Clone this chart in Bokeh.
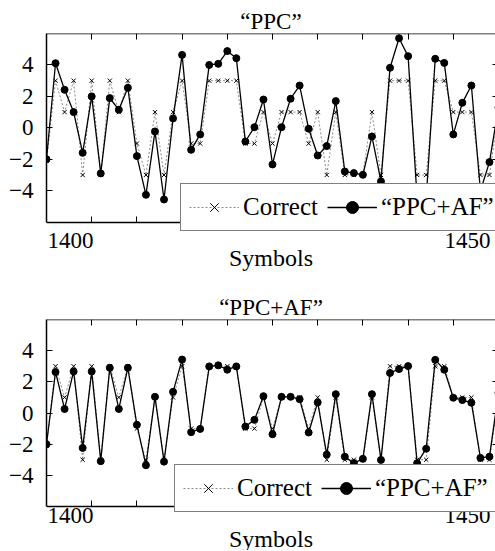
from bokeh.plotting import figure
from bokeh.models import (Range1d, LinearAxis, FixedTicker, Legend, LegendItem,
                          Label, Title, ColumnDataSource)
from bokeh.layouts import column
from bokeh.embed import file_html
from bokeh.resources import INLINE

# ---------------- data ----------------
symbols = list(range(1400, 1451))
correct = [-2.1, 3, 1, 3, -3, 3, -3, 3, 1, 3,
           -1, -3, 1, -3, 1, 3, -1, -1, 3, 3,
           3, 3, -1, -1, 1, -1, 1, 1, 1, -1,
           1, -3, 1, -3, -3, -3, 1, -3, 3, 3,
           3, -3, -3, 3, 3, 1, 1, 1, -3, -3, 1]
ppc = [-2.0, 4.11, 2.42, 1.0, -1.59, 2.0, -2.9, 1.89, 1.15, 2.55,
       -1.8, -4.26, -0.23, -4.56, 0.6, 4.64, -1.4, -0.42, 4.0, 4.07,
       4.88, 4.43, -0.87, 0.04, 1.8, -2.33, 0.04, 1.85, 2.69, -0.06,
       -1.76, -1.16, 1.7, -2.78, -2.88, -2.99, -0.55, -3.41, 3.82, 5.7,
       4.56, -4.5, -4.5, 4.39, 4.13, -0.42, 1.59, 2.69, -4.0, -2.18, 1.3]
ppc_af = [-2.0, 2.63, 0.26, 2.67, -2.24, 2.67, -3.09, 2.9, 0.26, 2.9,
          -0.76, -3.35, 1.04, -3.12, 1.36, 3.43, -1.23, -1.02, 2.99, 3.06,
          2.78, 2.99, -0.87, -0.44, 1.08, -1.36, 1.04, 1.04, 0.89, -1.25,
          0.68, -2.67, 1.21, -2.8, -3.22, -2.94, 1.21, -3.01, 2.57, 2.82,
          3.01, -3.22, -2.29, 3.41, 2.78, 0.98, 0.83, 0.66, -2.88, -2.8, 1.3]

y_ticks = [-4, -2, 0, 2, 4]
x_ticks = [1405, 1410, 1415, 1420, 1425, 1430, 1435, 1440, 1445]
x_label_values = [1400, 1450]
x_label_texts = ["1400", "1450"]
titles = ["\u201cPPC\u201d", "\u201cPPC+AF\u201d"]
legend_labels = ["Correct", "\u201cPPC+AF\u201d"]
x_axis_label = "Symbols"

FONT = "Liberation Serif"
FS = "23px"
FS_BIG = "24px"
FS_LEG = "25px"
X_START, X_BORDER = 1400, 1450
Y_LOW, Y_HIGH = -6, 6          # the drawn plot box
PX_X, PX_Y = 9.04, 15.72       # pixels per data unit
LEFT, WIDTH = 46, 495


def make_panel(title, est, height, top, legend_loc, lab_dy, xlab_standoff):
    frame_w = WIDTH - LEFT
    frame_h = height - top
    x_end = X_START + frame_w / PX_X
    y_start = Y_HIGH - frame_h / PX_Y
    p = figure(width=WIDTH, height=height, output_backend="svg", toolbar_location=None,
               x_range=Range1d(X_START, x_end), y_range=Range1d(y_start, Y_HIGH),
               x_axis_type=None, y_axis_type=None,
               min_border_left=LEFT, min_border_right=0,
               min_border_top=top, min_border_bottom=0)
    p.outline_line_color = None
    p.background_fill_color = "white"
    p.border_fill_color = "white"

    p.title = Title(text=title, align="center", text_font=FONT, text_font_size=FS,
                    text_font_style="normal", text_color="black", standoff=0)

    # left axis with labels
    ya = LinearAxis(ticker=FixedTicker(ticks=y_ticks, minor_ticks=[]), bounds=(Y_LOW, Y_HIGH),
                    major_tick_in=6, major_tick_out=0, minor_tick_in=0, minor_tick_out=0,
                    axis_line_width=1.5, major_tick_line_width=1,
                    major_label_text_font=FONT, major_label_text_font_size=FS,
                    major_label_text_color="black", major_label_standoff=13)
    p.add_layout(ya, "left")

    # bottom border, ticks inside, axis title
    xa = LinearAxis(ticker=FixedTicker(ticks=[], minor_ticks=x_ticks), fixed_location=Y_LOW,
                    bounds=(X_START, X_BORDER),
                    minor_tick_in=6, minor_tick_out=0, major_tick_in=0, major_tick_out=0,
                    axis_line_width=1.5, minor_tick_line_width=1, minor_tick_line_color="black",
                    major_label_standoff=0,
                    axis_label=x_axis_label, axis_label_text_font=FONT,
                    axis_label_text_font_size=FS_BIG, axis_label_text_font_style="normal",
                    axis_label_text_color="black", axis_label_standoff=xlab_standoff)
    p.add_layout(xa, "below")

    # top border with ticks
    ta = LinearAxis(ticker=FixedTicker(ticks=[], minor_ticks=x_ticks), fixed_location=Y_HIGH,
                    bounds=(X_START, X_BORDER),
                    minor_tick_in=6, minor_tick_out=0, major_tick_in=0, major_tick_out=0,
                    axis_line_width=1.5, minor_tick_line_width=1, minor_tick_line_color="black")
    p.add_layout(ta, "above")

    # right ticks (the border itself lies just outside the window)
    ra = LinearAxis(ticker=FixedTicker(ticks=[], minor_ticks=y_ticks), fixed_location=X_BORDER,
                    bounds=(Y_LOW, Y_HIGH),
                    minor_tick_in=6, minor_tick_out=0, major_tick_in=0, major_tick_out=0,
                    axis_line_width=1.5, minor_tick_line_width=1, minor_tick_line_color="black")
    p.add_layout(ra, "right")

    # x tick labels (only the two ends are labelled)
    for v, t, al, dx in zip(x_label_values, x_label_texts, ["left", "right"], [1, -8]):
        p.add_layout(Label(x=v, y=Y_LOW, text=t, text_align=al, text_baseline="top",
                           x_offset=dx, y_offset=lab_dy, text_font=FONT, text_font_size=FS,
                           text_color="black"))

    src = ColumnDataSource(dict(x=symbols, correct=correct, est=est))
    lc = p.line("x", "correct", source=src, line_color="#8a8a8a", line_dash="2 2", line_width=1)
    mc = p.scatter("x", "correct", source=src, marker="x", size=6, line_color="black",
                   line_width=1)
    le = p.line("x", "est", source=src, line_color="black", line_width=1.3)
    me = p.scatter("x", "est", source=src, marker="circle", size=7, fill_color="black",
                   line_color="black")

    legend = Legend(items=[LegendItem(label=legend_labels[0], renderers=[lc, mc]),
                           LegendItem(label=legend_labels[1], renderers=[le, me])],
                    orientation="horizontal", location=legend_loc,
                    glyph_width=50, glyph_height=30, label_height=30, label_standoff=4,
                    spacing=9, padding=8, margin=0,
                    border_line_color="black", border_line_width=1.5,
                    background_fill_color="white", background_fill_alpha=1.0,
                    label_text_font=FONT, label_text_font_size=FS_LEG,
                    label_text_color="black")
    p.add_layout(legend)
    return p


p1 = make_panel(titles[0], ppc, 292, 33, (134, 61), -11, 22)
p2 = make_panel(titles[1], ppc_af, 258, 25, (128, 38), -1, 19)

layout = column(p1, p2, spacing=0)
open("out.html", "w").write(file_html(layout, INLINE))
